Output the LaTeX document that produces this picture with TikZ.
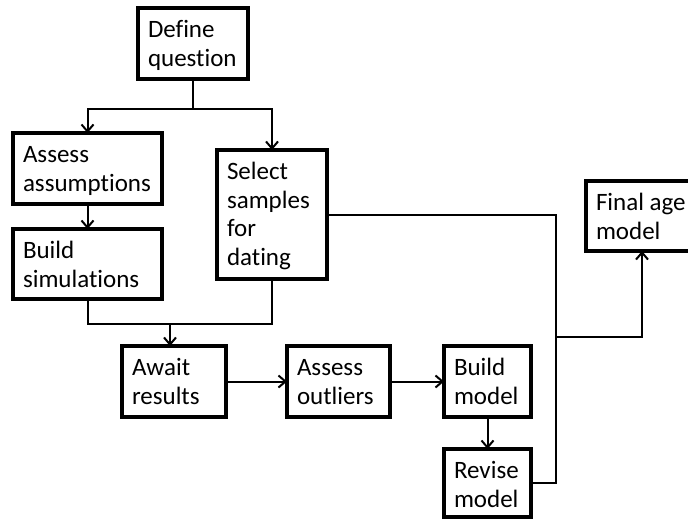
\documentclass[tikz,border=0pt]{standalone}
\usepackage{fontspec}
\setmainfont{Carlito}[Ligatures={CommonOff}]
\usetikzlibrary{arrows.meta}
\newcommand{\bxt}[3]{\parbox[c][#2][t]{#1}{\fontsize{25}{28.5}\selectfont\leftskip=10pt\rightskip=0pt plus 1fil\parfillskip=0pt plus 1fil\parskip=0pt\vspace*{10pt}\strut #3}}
\tikzset{
  box/.style={draw, line width=3.2pt, inner sep=0pt, outer sep=0pt, anchor=north west},
  conn/.style={line width=2pt},
  arr/.style={conn, -{Straight Barb[length=7pt,width=12pt]}}
}
\begin{document}
\begin{tikzpicture}[x=1pt,y=-1pt]
\useasboundingbox (0,0) rectangle (688,519);
\clip (0,0) rectangle (688,519);
\node[box] (def) at (138,8) {\bxt{110pt}{71pt}{Define\\question}};
\node[box] (aa) at (13,133) {\bxt{149pt}{71pt}{Assess\\assumptions}};
\node[box] (bs) at (13,229) {\bxt{149pt}{70pt}{Build\\simulations}};
\node[box] (ss) at (217,150) {\bxt{110pt}{129pt}{Select\\samples\\for\\dating}};
\node[box] (aw) at (122,346) {\bxt{104pt}{71pt}{Await\\results}};
\node[box] (ao) at (287,346) {\bxt{103pt}{71pt}{Assess\\outliers}};
\node[box] (bm) at (444,346) {\bxt{87pt}{71pt}{Build\\model}};
\node[box] (rm) at (444,449) {\bxt{87pt}{68pt}{Revise\\model}};
\node[box] (fa) at (586,181) {\bxt{112pt}{70pt}{Final age\\model}};
\coordinate (j1) at (193,109);
\coordinate (j2) at (170,324);
\coordinate (c1) at (556,337);
\draw[conn] (def.south) -- (j1);
\draw[arr] (j1) -| (aa.north);
\draw[arr] (j1) -| (ss.north);
\draw[arr] (aa.south) -- (bs.north);
\draw[conn] (bs.south) |- (j2) -| (ss.south);
\draw[arr] (j2) -- (j2 |- aw.north);
\draw[arr] (aw.east) -- (ao.west);
\draw[arr] (ao.east) -- (bm.west);
\draw[arr] (bm.south) -- (rm.north);
\draw[conn] (ss.east) -| (c1) |- (rm.east);
\draw[arr] (c1) -| (fa.south);
\end{tikzpicture}
\end{document}
